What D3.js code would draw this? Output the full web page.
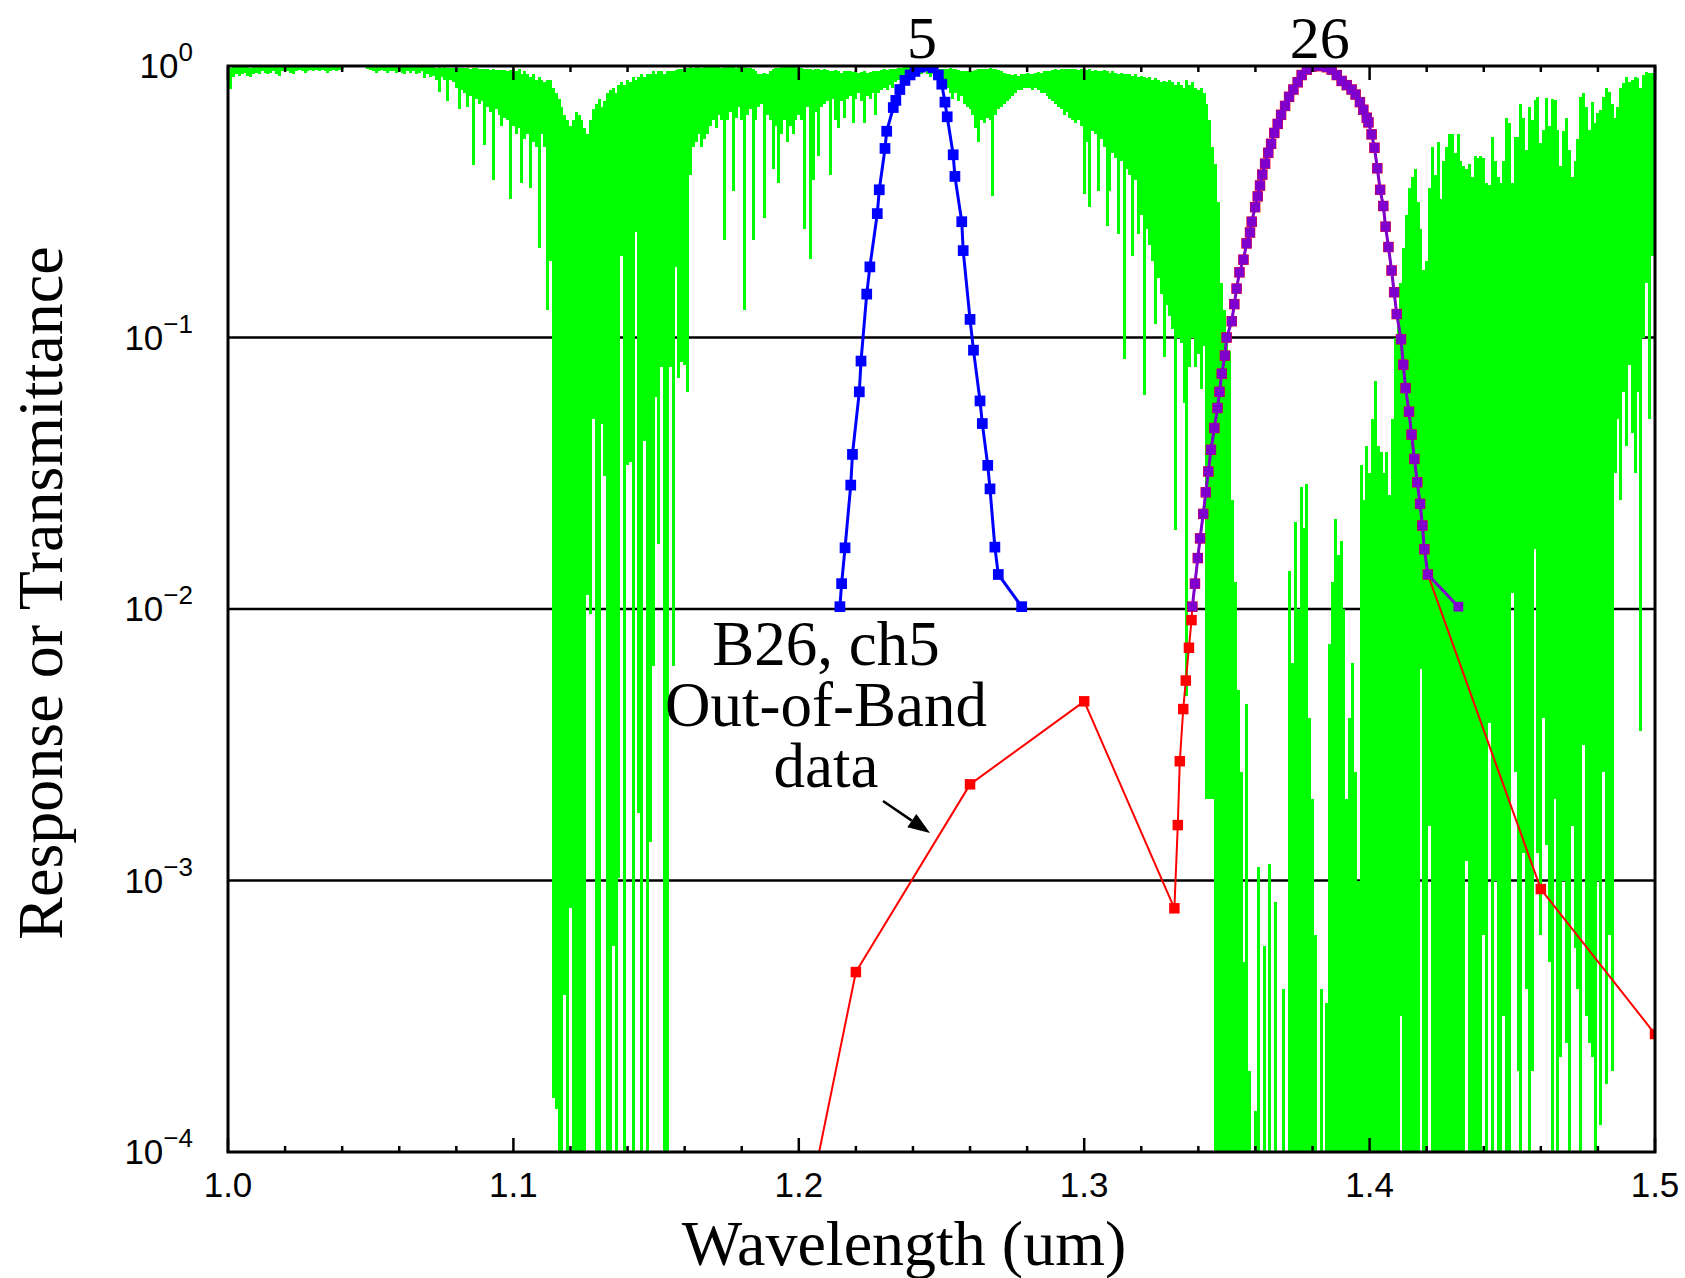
<!DOCTYPE html>
<html>
<head>
<meta charset="utf-8">
<script src="https://cdn.jsdelivr.net/npm/d3@7"></script>
<style>
  body { margin: 0; background: #fff; }
</style>
</head>
<body>
<div id="chart"></div>
<script>
// ---- data ----

// atmospheric transmittance, one column per 0.001 um from 1.000 to 1.500
// (log10 of the highest and lowest value reached inside each column, -5 = nothing visible)
const transStart = 1.0, transStep = 0.001;
const transHiLog = [
  -0.004,-0.006,-0.004,-0.003,-0.005,-0.004,-0.003,-0.004,-0.006,-0.004,
  -0.003,-0.004,-0.003,-0.005,-0.004,-0.003,-0.004,-0.003,-0.005,-0.003,
  -0.003,-0.004,-0.003,-0.003,-0.004,-0.003,-0.003,-0.004,-0.003,-0.003,
  -0.003,-0.004,-0.003,-0.003,-0.004,-0.003,-0.003,-0.003,-0.004,-0.003,
  -0.003,-0.002,-0.002,-0.002,-0.002,-0.002,-0.002,-0.002,-0.002,-0.003,
  -0.003,-0.004,-0.003,-0.003,-0.004,-0.003,-0.004,-0.003,-0.003,-0.004,
  -0.003,-0.004,-0.003,-0.004,-0.003,-0.004,-0.003,-0.004,-0.003,-0.005,
  -0.004,-0.005,-0.004,-0.006,-0.005,-0.006,-0.005,-0.007,-0.006,-0.008,
  -0.006,-0.008,-0.007,-0.009,-0.008,-0.01,-0.009,-0.008,-0.012,-0.01,
  -0.012,-0.01,-0.014,-0.012,-0.015,-0.013,-0.016,-0.014,-0.018,-0.015,
  -0.01,-0.02,-0.01,-0.03,-0.02,-0.03,-0.04,-0.03,-0.05,-0.04,
  -0.05,-0.06,-0.05,-0.05,-0.08,-0.1,-0.12,-0.15,-0.18,-0.2,
  -0.22,-0.2,-0.17,-0.18,-0.2,-0.23,-0.25,-0.2,-0.16,-0.14,
  -0.12,-0.15,-0.13,-0.1,-0.09,-0.08,-0.1,-0.07,-0.06,-0.07,
  -0.05,-0.06,-0.04,-0.05,-0.04,-0.03,-0.04,-0.03,-0.03,-0.02,
  -0.03,-0.02,-0.02,-0.03,-0.02,-0.02,-0.02,-0.015,-0.012,-0.01,
  -0.008,-0.006,-0.005,-0.006,-0.005,-0.004,-0.006,-0.005,-0.004,-0.005,
  -0.004,-0.005,-0.004,-0.006,-0.005,-0.004,-0.005,-0.004,-0.006,-0.005,
  -0.004,-0.005,-0.006,-0.008,-0.012,-0.02,-0.03,-0.03,-0.025,-0.03,
  -0.02,-0.012,-0.008,-0.006,-0.005,-0.004,-0.005,-0.004,-0.005,-0.004,
  -0.006,-0.008,-0.01,-0.012,-0.01,-0.015,-0.012,-0.01,-0.014,-0.012,
  -0.015,-0.02,-0.018,-0.015,-0.02,-0.025,-0.02,-0.018,-0.02,-0.022,
  -0.02,-0.025,-0.022,-0.02,-0.025,-0.022,-0.02,-0.018,-0.02,-0.015,
  -0.012,-0.015,-0.01,-0.012,-0.01,-0.008,-0.006,-0.005,-0.004,-0.004,
  -0.004,-0.003,-0.004,-0.003,-0.004,-0.005,-0.006,-0.008,-0.01,-0.012,
  -0.01,-0.012,-0.01,-0.008,-0.01,-0.012,-0.015,-0.018,-0.02,-0.018,
  -0.02,-0.018,-0.015,-0.012,-0.01,-0.012,-0.01,-0.008,-0.01,-0.012,
  -0.015,-0.02,-0.025,-0.03,-0.028,-0.032,-0.03,-0.035,-0.03,-0.028,
  -0.025,-0.03,-0.028,-0.025,-0.022,-0.025,-0.02,-0.018,-0.02,-0.015,
  -0.012,-0.015,-0.01,-0.012,-0.01,-0.012,-0.01,-0.012,-0.015,-0.012,
  -0.01,-0.015,-0.012,-0.02,-0.015,-0.018,-0.02,-0.015,-0.02,-0.025,
  -0.02,-0.025,-0.03,-0.025,-0.03,-0.028,-0.03,-0.035,-0.03,-0.04,
  -0.035,-0.04,-0.045,-0.04,-0.05,-0.045,-0.05,-0.06,-0.055,-0.06,
  -0.05,-0.06,-0.07,-0.06,-0.07,-0.08,-0.05,-0.07,-0.06,-0.08,
  -0.09,-0.08,-0.1,-0.14,-0.2,-0.3,-0.36,-0.5,-0.8,-0.9,
  -1.0,-1.05,-1.6,-1.9,-2.3,-2.6,-3.3,-2.35,-3.7,-5,
  -3.85,-2.95,-5,-3.24,-5,-2.94,-5,-3.08,-5,-5,
  -3.4,-5,-1.86,-2.2,-1.68,-2.0,-1.55,-1.7,-1.54,-2.4,
  -2.7,-3.2,-5,-3.4,-5,-3.45,-2.13,-1.9,-1.67,-1.8,
  -1.75,-2.0,-2.7,-2.4,-2.2,-2.6,-3.0,-1.47,-1.6,-1.4,
  -1.5,-1.3,-1.16,-1.4,-1.42,-1.5,-1.42,-1.58,-1.3,-1.0,
  -0.9,-0.8,-0.67,-0.55,-0.45,-0.41,-0.38,-0.5,-0.6,-0.75,
  -0.72,-0.45,-0.3,-0.4,-0.28,-0.49,-0.35,-0.3,-0.25,-0.25,
  -0.32,-0.25,-0.35,-0.37,-0.38,-0.36,-0.41,-0.33,-0.34,-0.33,
  -0.34,-0.43,-0.44,-0.26,-0.35,-0.41,-0.43,-0.35,-0.19,-0.21,
  -0.43,-0.26,-0.26,-0.14,-0.19,-0.31,-0.15,-0.2,-0.125,-0.113,
  -0.285,-0.236,-0.119,-0.22,-0.12,-0.125,-0.236,-0.37,-0.24,-0.193,
  -0.31,-0.41,-0.35,-0.27,-0.113,-0.1,-0.15,-0.236,-0.132,-0.21,
  -0.174,-0.162,-0.113,-0.082,-0.094,-0.14,-0.19,-0.15,-0.082,-0.064,
  -0.04,-0.058,-0.052,-0.04,-0.045,-0.082,-0.033,-0.021,-0.027,-0.025,-0.03
];
const transLoLog = [
  -0.03,-0.085,-0.04,-0.03,-0.035,-0.03,-0.025,-0.035,-0.04,-0.03,
  -0.025,-0.03,-0.02,-0.025,-0.03,-0.025,-0.02,-0.03,-0.035,-0.02,
  -0.015,-0.02,-0.025,-0.03,-0.02,-0.015,-0.02,-0.025,-0.02,-0.015,
  -0.02,-0.015,-0.02,-0.015,-0.02,-0.025,-0.02,-0.015,-0.02,-0.015,
  -0.01,-0.005,-0.004,-0.004,-0.004,-0.005,-0.004,-0.005,-0.004,-0.01,
  -0.015,-0.02,-0.025,-0.02,-0.015,-0.02,-0.025,-0.02,-0.02,-0.025,
  -0.02,-0.025,-0.03,-0.02,-0.025,-0.02,-0.03,-0.025,-0.02,-0.045,
  -0.03,-0.04,-0.035,-0.05,-0.096,-0.04,-0.05,-0.13,-0.05,-0.06,
  -0.08,-0.16,-0.09,-0.1,-0.15,-0.11,-0.365,-0.12,-0.14,-0.13,
  -0.29,-0.15,-0.17,-0.42,-0.16,-0.18,-0.22,-0.19,-0.2,-0.49,
  -0.22,-0.25,-0.23,-0.43,-0.27,-0.25,-0.45,-0.28,-0.3,-0.67,
  -0.25,-0.3,-0.9,-0.72,-3.8,-3.84,-4.5,-4.5,-3.42,-4.5,
  -3.1,-4.5,-4.5,-4.5,-4.5,-4.5,-1.95,-2.02,-1.3,-4.5,
  -4.5,-1.32,-1.51,-4.5,-4.5,-3.24,-4.5,-2.99,-0.7,-4.5,
  -1.47,-1.46,-4.5,-0.61,-2.75,-4.5,-1.38,-4.5,-2.86,-2.21,
  -1.22,-1.76,-1.11,-4.5,-4.5,-1.11,-2.21,-0.74,-1.15,-1.09,
  -1.1,-1.2,-0.4,-0.3,-0.28,-0.25,-0.3,-0.27,-0.25,-0.22,
  -0.2,-0.23,-0.18,-0.2,-0.64,-0.2,-0.17,-0.46,-0.19,-0.15,
  -0.2,-0.9,-0.18,-0.16,-0.64,-0.2,-0.15,-0.14,-0.56,-0.18,
  -0.2,-0.38,-0.22,-0.43,-0.25,-0.2,-0.28,-0.22,-0.25,-0.2,
  -0.18,-0.2,-0.6,-0.15,-0.71,-0.42,-0.17,-0.33,-0.15,-0.14,
  -0.13,-0.4,-0.12,-0.2,-0.23,-0.13,-0.19,-0.12,-0.11,-0.21,
  -0.12,-0.1,-0.13,-0.21,-0.11,-0.12,-0.1,-0.18,-0.1,-0.09,
  -0.08,-0.09,-0.07,-0.08,-0.06,-0.05,-0.05,-0.04,-0.04,-0.03,
  -0.03,-0.03,-0.02,-0.03,-0.02,-0.03,-0.04,-0.03,-0.05,-0.04,
  -0.06,-0.05,-0.08,-0.1,-0.12,-0.1,-0.13,-0.11,-0.14,-0.15,
  -0.16,-0.18,-0.23,-0.28,-0.2,-0.21,-0.19,-0.2,-0.48,-0.18,
  -0.16,-0.15,-0.14,-0.13,-0.12,-0.11,-0.1,-0.09,-0.09,-0.08,
  -0.08,-0.08,-0.09,-0.08,-0.09,-0.1,-0.1,-0.11,-0.12,-0.13,
  -0.14,-0.15,-0.16,-0.18,-0.17,-0.19,-0.2,-0.21,-0.2,-0.22,
  -0.47,-0.28,-0.52,-0.24,-0.25,-0.46,-0.27,-0.3,-0.59,-0.46,
  -0.32,-0.34,-0.62,-0.35,-1.08,-0.38,-0.4,-0.7,-0.42,-0.62,
  -0.55,-1.21,-0.6,-0.66,-0.72,-0.95,-0.78,-0.84,-1.07,-0.88,
  -0.92,-0.97,-1.71,-1.0,-1.02,-1.24,-2.32,-1.11,-1.0,-1.11,
  -1.06,-1.19,-1.03,-2.7,-2.7,-2.7,-4.5,-4.5,-4.5,-4.5,
  -4.5,-4.5,-4.5,-4.5,-4.5,-4.5,-4.5,-4.5,-4.5,-5,
  -4.5,-4.5,-5,-4.5,-5,-4.5,-5,-4.5,-5,-5,
  -4.5,-5,-4.5,-4.5,-4.5,-4.5,-4.5,-4.5,-4.5,-4.5,
  -4.5,-4.5,-5,-4.5,-5,-4.5,-4.5,-4.5,-4.5,-4.5,
  -4.5,-4.5,-4.5,-4.5,-4.5,-4.5,-4.5,-4.5,-4.5,-4.5,
  -4.5,-4.5,-4.5,-4.5,-4.5,-4.5,-4.5,-4.5,-4.5,-4.5,
  -4.5,-3.5,-4.5,-4.5,-4.5,-4.5,-4.5,-4.5,-2.22,-4.5,
  -4.5,-2.8,-4.5,-4.5,-4.5,-4.5,-4.5,-4.5,-4.5,-4.5,
  -4.5,-4.5,-4.5,-4.5,-2.93,-4.5,-4.5,-4.5,-4.5,-4.5,
  -3.2,-4.5,-2.42,-4.5,-3.0,-4.5,-4.5,-3.5,-4.5,-4.5,
  -1.94,-2.6,-3.7,-4.5,-2.9,-3.4,-4.5,-3.7,-1.78,-2.9,
  -3.2,-2.4,-2.87,-3.3,-4.5,-2.7,-4.5,-3.65,-3.0,-3.6,
  -4.5,-2.8,-3.25,-3.4,-4.5,-2.5,-3.5,-3.6,-3.65,-4.5,
  -3.0,-3.9,-2.6,-3.75,-3.2,-3.7,-1.5,-1.3,-1.6,-1.2,
  -1.4,-1.1,-1.35,-1.5,-1.2,-2.45,-1.0,-0.8,-1.3,-0.7,-0.6
];

// channel 5 relative spectral response (blue)
const ch5Wave = [1.2144,1.2150,1.2162,1.2182,1.2188,1.2212,1.2218,1.2238,1.2249,1.2275,
  1.2282,1.2302,1.2308,1.2331,1.2340,1.2354,1.2372,1.2390,1.2407,1.2425,
  1.2448,1.2471,1.2489,1.2501,1.2512,1.2520,1.2541,1.2547,1.2571,1.2576,
  1.2600,1.2612,1.2635,1.2643,1.2662,1.2670,1.2687,1.2699,1.2781];
const ch5Resp = [0.0102,0.0124,0.0168,0.0286,0.0371,0.0631,0.0819,0.1445,0.182,0.286,
  0.35,0.497,0.575,0.703,0.747,0.819,0.885,0.927,0.955,0.99,
  1.0,0.985,0.927,0.857,0.736,0.65,0.471,0.392,0.267,0.209,
  0.1166,0.0898,0.0584,0.0482,0.0338,0.0277,0.0169,0.0134,0.0102];

// band 26 in-band response (purple)
const b26Wave = [1.3379,1.3388,1.3398,1.3406,1.3417,1.3426,1.3435,1.3444,1.3456,1.3467,
  1.3474,1.3482,1.3493,1.3499,1.3517,1.3526,1.3534,1.3544,1.3558,1.3569,
  1.3581,1.3587,1.3599,1.3608,1.3616,1.3624,1.3634,1.3645,1.3655,1.3666,
  1.3678,1.3690,1.3704,1.3718,1.3733,1.3748,1.3762,1.3780,1.3797,1.3815,
  1.3832,1.3850,1.3867,1.3885,1.3902,1.3920,1.3937,1.3951,1.3966,1.3978,
  1.3990,1.3996,1.4007,1.4017,1.4027,1.4037,1.4048,1.4056,1.4066,1.4077,
  1.4086,1.4095,1.4110,1.4118,1.4126,1.4138,1.4147,1.4157,1.4167,1.4177,
  1.4185,1.4192,1.4204,1.4311];
const b26Resp = [0.0102,0.0124,0.0154,0.0182,0.0224,0.0269,0.0321,0.0386,0.0464,0.055,
  0.0631,0.0736,0.0858,0.1,0.1148,0.1327,0.1514,0.1738,0.1935,0.2222,
  0.2436,0.2671,0.302,0.331,0.363,0.398,0.437,0.479,0.517,0.567,
  0.612,0.661,0.713,0.77,0.819,0.871,0.926,0.97,0.995,1.0,
  1.0,0.99,0.97,0.926,0.881,0.85,0.819,0.785,0.736,0.69,
  0.645,0.62,0.56,0.50,0.42,0.35,0.305,0.256,0.2154,0.1765,
  0.1468,0.122,0.0985,0.0794,0.0651,0.0533,0.0439,0.0357,0.0293,0.0244,
  0.0203,0.0166,0.0134,0.0102];

// band 26 out-of-band data (red), below and above the band
const oobLowWave = [1.20,1.22,1.26,1.30,1.3316,1.3328,1.3335,1.3347,1.3356,1.3367,1.3376];
const oobLowResp = [4.3e-5,4.6e-4,2.26e-3,4.57e-3,7.9e-4,1.6e-3,2.75e-3,4.28e-3,5.45e-3,7.2e-3,9.1e-3];
const oobHighWave = [1.46,1.50];
const oobHighResp = [9.3e-4,2.72e-4];

const xTickLabels = ["1.0","1.1","1.2","1.3","1.4","1.5"];
const yDecades = [0,-1,-2,-3,-4];
const peakLabels = [{text:"5", wave:1.2432}, {text:"26", wave:1.3825}];
const noteLines = ["B26, ch5", "Out-of-Band", "data"];

// ---- drawing ----
const width = 1685, height = 1278;
const margin = {left: 228, right: 30, top: 66, bottom: 126};
const plotL = margin.left, plotR = width - margin.right, plotT = margin.top, plotB = height - margin.bottom;

const svg = d3.select("#chart").append("svg")
    .attr("width", width)
    .attr("height", height)
    .style("background", "#fff");

const x = d3.scaleLinear().domain([1.0, 1.5]).range([plotL, plotR]);
const y = d3.scaleLog().domain([1e-4, 1]).range([plotB, plotT]);

svg.append("clipPath").attr("id", "plotClip")
  .append("rect")
    .attr("x", plotL).attr("y", plotT)
    .attr("width", plotR - plotL).attr("height", plotB - plotT);

// horizontal decade lines
svg.append("g")
  .selectAll("line")
  .data(yDecades.filter(e => e < 0 && e > -4))
  .join("line")
    .attr("x1", plotL).attr("x2", plotR)
    .attr("y1", e => y(Math.pow(10, e))).attr("y2", e => y(Math.pow(10, e)))
    .attr("stroke", "#000").attr("stroke-width", 2.5);

// transmittance columns
let trans = transHiLog.map((hi, i) => ({
  w: transStart + i * transStep,
  hi: Math.pow(10, hi),
  lo: Math.pow(10, transLoLog[i])
})).filter(d => d.hi > 1e-4);

svg.append("g").attr("clip-path", "url(#plotClip)")
  .selectAll("line")
  .data(trans)
  .join("line")
    .attr("x1", d => x(d.w)).attr("x2", d => x(d.w))
    .attr("y1", d => y(d.hi)).attr("y2", d => y(d.lo))
    .attr("stroke", "#00ff00")
    .attr("stroke-width", 3)
    .attr("shape-rendering", "crispEdges");

function toPts(ws, vs){ return ws.map((w, i) => ({w: w, v: vs[i]})); }

const ch5 = toPts(ch5Wave, ch5Resp);
const b26 = toPts(b26Wave, b26Resp);
const oob = toPts(oobLowWave, oobLowResp).concat(b26.slice(0, b26.length - 1), toPts(oobHighWave, oobHighResp));

const line = d3.line().x(d => x(d.w)).y(d => y(d.v));
const square = d3.symbol().type(d3.symbolSquare);

function drawSeries(pts, color, lw, msize){
  let g = svg.append("g").attr("clip-path", "url(#plotClip)");
  g.append("path")
    .attr("d", line(pts))
    .attr("fill", "none")
    .attr("stroke", color)
    .attr("stroke-width", lw)
    .attr("stroke-linejoin", "round");
  g.selectAll("path.mk")
    .data(pts.filter(d => d.v >= 1e-4))
    .join("path")
      .attr("class", "mk")
      .attr("d", square.size(msize)())
      .attr("transform", d => "translate(" + x(d.w) + "," + y(d.v) + ")")
      .attr("fill", color);
}

drawSeries(oob, "#ff0000", 2, 110);
drawSeries(b26, "#7f00cc", 3, 95);
drawSeries(ch5, "#0000ff", 3, 115);

// frame
svg.append("rect")
  .attr("x", plotL).attr("y", plotT)
  .attr("width", plotR - plotL).attr("height", plotB - plotT)
  .attr("fill", "none").attr("stroke", "#000").attr("stroke-width", 3);

// x ticks on bottom and top
const minorTicks = x.ticks(25), majorTicks = x.ticks(5);
const tickG = svg.append("g").attr("stroke", "#000").attr("stroke-width", 2.5);
minorTicks.forEach(t => {
  let len = majorTicks.some(m => Math.abs(m - t) < 1e-9) ? 14 : 6;
  tickG.append("line").attr("x1", x(t)).attr("x2", x(t)).attr("y1", plotB).attr("y2", plotB - len);
  tickG.append("line").attr("x1", x(t)).attr("x2", x(t)).attr("y1", plotT).attr("y2", plotT + len);
});

const sans = "'Liberation Sans', Arial, Helvetica, sans-serif";
const serif = "'Liberation Serif', 'Times New Roman', Times, serif";

svg.append("g")
  .selectAll("text")
  .data(majorTicks)
  .join("text")
    .attr("x", d => x(d))
    .attr("y", plotB + 45)
    .attr("text-anchor", "middle")
    .attr("font-family", sans)
    .attr("font-size", 35)
    .text((d, i) => xTickLabels[i]);

// y labels 10^n
yDecades.forEach(e => {
  let t = svg.append("text")
    .attr("x", 193)
    .attr("y", y(Math.pow(10, e)) + 12)
    .attr("text-anchor", "end")
    .attr("font-family", sans)
    .attr("font-size", 35);
  t.append("tspan").text("10");
  t.append("tspan").attr("dy", -17).attr("font-size", 26)
    .text(e === 0 ? "0" : "\u2212" + Math.abs(e));
});

// axis titles
svg.append("text")
  .attr("x", 904).attr("y", 1265)
  .attr("text-anchor", "middle")
  .attr("font-family", serif).attr("font-size", 64)
  .text("Wavelength (um)");

svg.append("text")
  .attr("transform", "translate(62,593) rotate(-90)")
  .attr("text-anchor", "middle")
  .attr("font-family", serif).attr("font-size", 64)
  .text("Response or Transmittance");

// channel numbers above the peaks
svg.append("g")
  .selectAll("text")
  .data(peakLabels)
  .join("text")
    .attr("x", d => x(d.wave))
    .attr("y", 58)
    .attr("text-anchor", "middle")
    .attr("font-family", serif).attr("font-size", 60)
    .text(d => d.text);

// out-of-band note (one text block, three lines) with arrow
const note = svg.append("text")
  .attr("x", 826)
  .attr("y", 665)
  .attr("text-anchor", "middle")
  .attr("font-family", serif).attr("font-size", 63);
note.selectAll("tspan")
  .data(noteLines)
  .join("tspan")
    .attr("x", 826)
    .attr("dy", (d, i) => i === 0 ? 0 : 61)
    .text(d => d);

const ax0 = 883, ay0 = 801, ax1 = 930, ay1 = 833;
const ang = Math.atan2(ay1 - ay0, ax1 - ax0);
const hl = 22, hw = 8;
const bx = ax1 - hl * Math.cos(ang), by = ay1 - hl * Math.sin(ang);
svg.append("line")
  .attr("x1", ax0).attr("y1", ay0).attr("x2", bx).attr("y2", by)
  .attr("stroke", "#000").attr("stroke-width", 2.5);
svg.append("polygon")
  .attr("points", [
    [ax1, ay1],
    [bx + hw * Math.sin(ang), by - hw * Math.cos(ang)],
    [bx - hw * Math.sin(ang), by + hw * Math.cos(ang)]
  ].map(p => p.join(",")).join(" "))
  .attr("fill", "#000");
</script>
</body>
</html>
